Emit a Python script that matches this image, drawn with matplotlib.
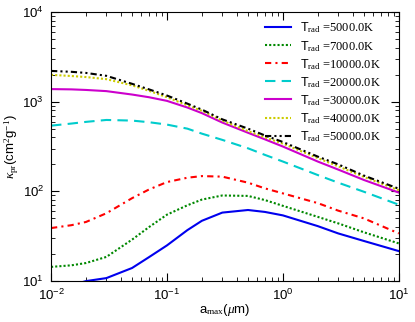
import numpy as np
import matplotlib
matplotlib.use("Agg")
import matplotlib.pyplot as plt

plt.rcParams["font.family"] = ["Liberation Sans", "DejaVu Sans"]
plt.rcParams["mathtext.fontset"] = "custom"
plt.rcParams["mathtext.rm"] = "Liberation Serif"
plt.rcParams["mathtext.it"] = "Liberation Serif:italic"
plt.rcParams["mathtext.sf"] = "Liberation Sans"

# grain size a_max (micron) and Planck mean opacity per T_rad
a_max = [0.01, 0.015, 0.02, 0.03, 0.05, 0.07, 0.1, 0.15, 0.2, 0.3, 0.5, 0.7, 1, 2, 3, 5, 10]
k5000 = [8.0, 9.0, 10.0, 10.8, 14, 18.5, 25, 37, 47, 58, 62, 59, 54, 41, 34, 28, 21.6]
k7000 = [14.4, 15.0, 15.9, 18.6, 29, 40, 55, 70, 81, 90, 89, 80, 69, 52, 44, 35, 26.3]
k10000 = [39, 42, 45.6, 57, 84, 105, 127, 142, 148, 146, 125, 108, 95, 74, 61, 50, 34]
k20000 = [540, 570, 595, 625, 615, 590, 555, 500, 440, 375, 302, 255, 215, 152, 125, 99, 71]
k30000 = [1380, 1370, 1350, 1310, 1200, 1120, 1020, 860, 745, 585, 450, 380, 316, 215, 175, 134, 97]
k40000 = [1990, 1930, 1880, 1780, 1520, 1320, 1120, 910, 790, 615, 470, 400, 340, 235, 190, 145, 103]
k50000 = [2200, 2150, 2090, 1940, 1580, 1370, 1170, 950, 815, 635, 500, 420, 355, 244, 200, 150, 107]

temps = ["5000.0", "7000.0", "10000.0", "20000.0", "30000.0", "40000.0", "50000.0"]
series = [k5000, k7000, k10000, k20000, k30000, k40000, k50000]
colors = ["#0000ee", "#008800", "#ff0000", "#00cccc", "#cc00cc", "#cccc00", "#000000"]
styles = ["-", (0, (1, 1)), (0, (3, 2, 1, 2)), (0, (5, 3)), "-", (0, (1, 1)),
          (0, (3, 1.5, 1, 1.5, 1, 1.5))]

fig = plt.figure(figsize=(4.15, 3.22), dpi=100)
ax = fig.add_axes([0.123, 0.127, 0.838, 0.836])

for t, k, c, ls in zip(temps, series, colors, styles):
    ax.plot(a_max, k, color=c, ls=ls, lw=1.5, label=r"$\mathsf{T}_{\rm rad}$ =" + t + "K")

ax.set_xscale("log")
ax.set_yscale("log")
ax.set_xlim(1e-2, 10)
ax.set_ylim(10, 1e4)
ax.tick_params(which="both", direction="in", top=True, right=True, labelsize=9.5)
ax.tick_params(which="major", length=6, pad=5)
ax.tick_params(which="minor", length=3)
ax.set_xlabel(r"a$_{\rm max}$($\mu$m)", fontsize=9.5, labelpad=-1)
ax.set_ylabel(r"$\kappa_{\rm pr}$(cm$^2$g$^{-1}$)", fontsize=9.5, labelpad=1)

leg = ax.legend(loc="upper right", frameon=False, handlelength=2.1, handletextpad=0.7,
                labelspacing=0.26, borderaxespad=0.3, bbox_to_anchor=(0.972, 1.0),
                prop={"family": "Liberation Serif", "size": 9})

fig.savefig("out.png", dpi=100)
